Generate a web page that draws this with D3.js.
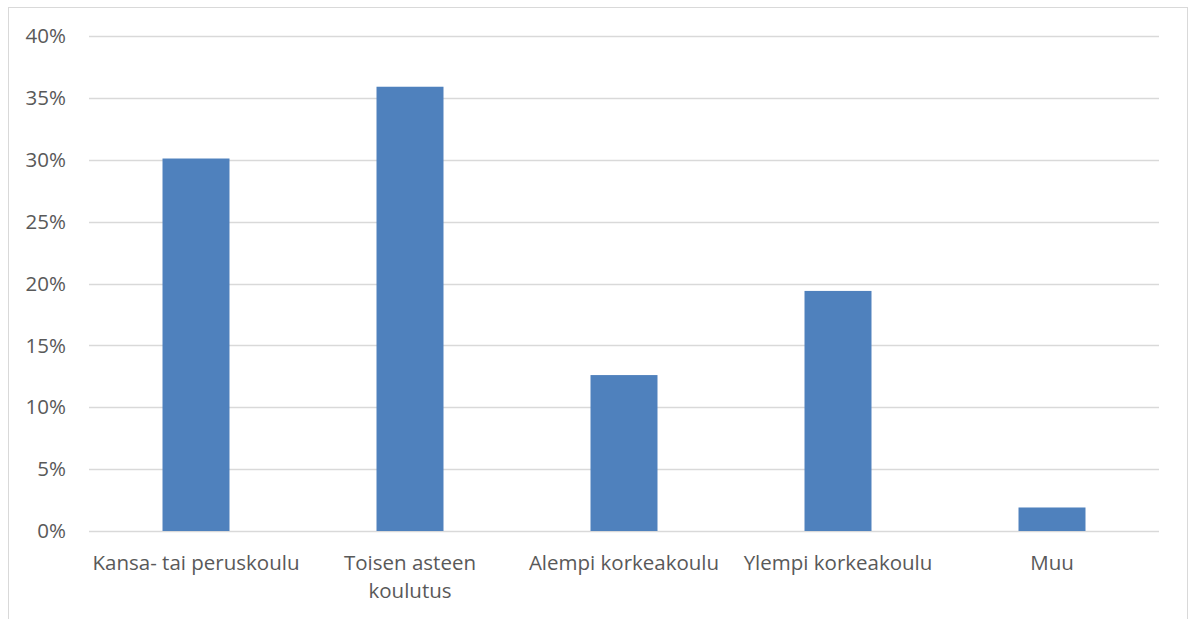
<!DOCTYPE html>
<html>
<head>
<meta charset="utf-8">
<script src="https://cdn.jsdelivr.net/npm/d3@7"></script>
<style>
  body { margin: 0; background: #fff; }
  text { font-family: "Open Sans", "Liberation Sans", Arial, sans-serif; fill: #595959; }
</style>
</head>
<body>
<div id="chart"></div>
<script>
// data
const categories = ["Kansa- tai peruskoulu", "Toisen asteen koulutus", "Alempi korkeakoulu", "Ylempi korkeakoulu", "Muu"];
const labelLines = [["Kansa- tai peruskoulu"], ["Toisen asteen", "koulutus"], ["Alempi korkeakoulu"], ["Ylempi korkeakoulu"], ["Muu"]];
const values = [30.1, 35.9, 12.6, 19.4, 1.9];
const yTicks = [0, 5, 10, 15, 20, 25, 30, 35, 40];

const width = 1194, height = 619;
const svg = d3.select("#chart").append("svg")
    .attr("width", width)
    .attr("height", height);

// outer frame (bottom edge is cut off in the picture)
svg.append("rect")
    .attr("x", 8.5).attr("y", 7.5)
    .attr("width", 1179).attr("height", 640)
    .attr("fill", "none")
    .attr("stroke", "#d9d9d9");

const x = d3.scaleBand()
    .domain(categories)
    .range([89, 1159])
    .paddingInner(0.687)
    .paddingOuter(0.687 / 2);

const y = d3.scaleLinear()
    .domain([0, 40])
    .range([531, 36]);

// gridlines
svg.append("g")
    .selectAll("line")
    .data(yTicks)
    .enter().append("line")
    .attr("x1", 89).attr("x2", 1159)
    .attr("y1", d => Math.round(y(d)) + 0.5)
    .attr("y2", d => Math.round(y(d)) + 0.5)
    .attr("stroke", "#d9d9d9")
    .attr("stroke-width", 1.5);

// y tick labels
svg.append("g")
    .selectAll("text")
    .data(yTicks)
    .enter().append("text")
    .attr("x", 66)
    .attr("y", d => y(d))
    .attr("dy", "0.35em")
    .attr("text-anchor", "end")
    .style("font-size", "20.5px")
    .text(d => d + "%");

// bars
svg.append("g")
    .selectAll("rect")
    .data(values)
    .enter().append("rect")
    .attr("x", (d, i) => x(categories[i]))
    .attr("width", x.bandwidth())
    .attr("y", d => y(d))
    .attr("height", d => y(0) - y(d))
    .attr("fill", "#4f81bd");

// category labels
const lab = svg.append("g")
    .selectAll("text")
    .data(categories)
    .enter().append("text")
    .attr("x", d => x(d) + x.bandwidth() / 2)
    .attr("y", 570)
    .attr("text-anchor", "middle")
    .style("font-size", "20.5px");

lab.selectAll("tspan")
    .data((d, i) => labelLines[i])
    .enter().append("tspan")
    .attr("x", function () { return d3.select(this.parentNode).attr("x"); })
    .attr("dy", (d, i) => i === 0 ? 0 : 28)
    .text(d => d);
</script>
</body>
</html>
